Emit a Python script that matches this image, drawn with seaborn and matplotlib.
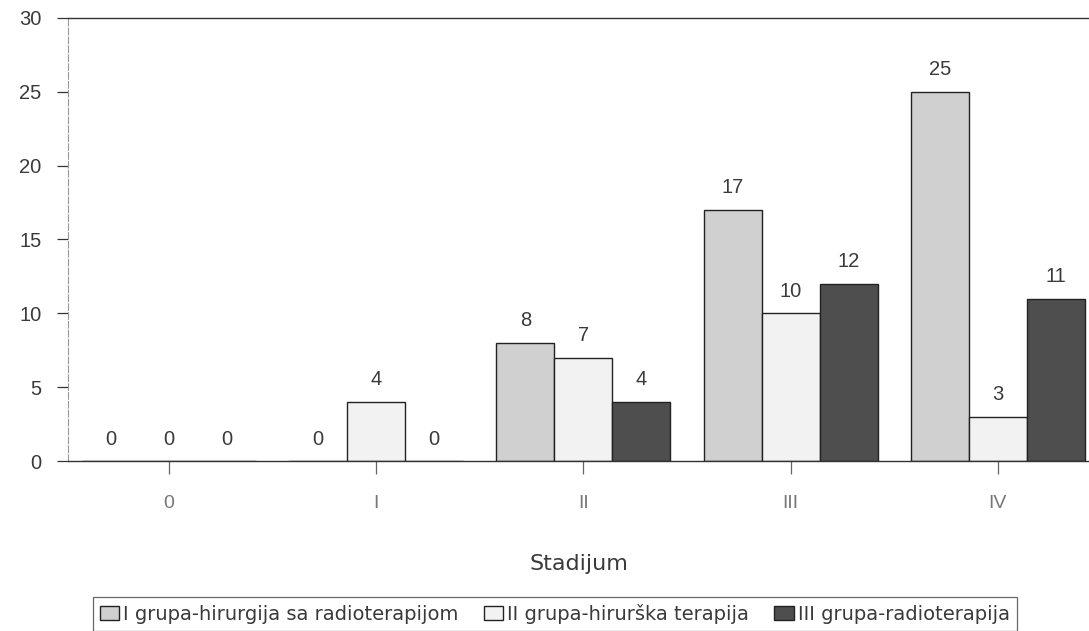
import matplotlib
matplotlib.use("Agg")
import matplotlib.pyplot as plt
import seaborn as sns
import pandas as pd

stadijumi = ["0", "I", "II", "III", "IV"]
grupe = ["I grupa-hirurgija sa radioterapijom",
         "II grupa-hirurška terapija",
         "III grupa-radioterapija"]
grupa_1 = [0, 0, 8, 17, 25]
grupa_2 = [0, 4, 7, 10, 3]
grupa_3 = [0, 0, 4, 12, 11]
boje = ["#d0d0d0", "#f2f2f2", "#4e4e4e"]

df = pd.DataFrame({
    "Stadijum": stadijumi * 3,
    "broj": grupa_1 + grupa_2 + grupa_3,
    "grupa": [g for g in grupe for _ in stadijumi],
})

sns.set_theme(style="white")
plt.rcParams["font.family"] = ["Liberation Sans", "DejaVu Sans"]
tekst = "#3a3a3a"

fig = plt.figure(figsize=(10.89, 6.31), dpi=100)
ax = fig.add_axes([0.0624, 0.2694, 0.9376, 0.7021])

sns.barplot(data=df, x="Stadijum", y="broj", hue="grupa", hue_order=grupe,
            order=stadijumi, palette=boje, edgecolor="#222222", linewidth=1.0,
            width=0.84, saturation=1, ax=ax, legend=True)

for cont in ax.containers:
    labels = [f"{int(b.get_height())}" for b in cont]
    ax.bar_label(cont, labels=labels, padding=9, fontsize=14.5, color=tekst)

ax.set_ylim(0, 30)
ax.set_yticks([0, 5, 10, 15, 20, 25, 30])
ax.set_xlim(-0.488, 4.44)

ax.spines["right"].set_visible(False)
for s in ["top", "bottom"]:
    ax.spines[s].set_color("#333333")
    ax.spines[s].set_linewidth(1.0)
ax.spines["left"].set_color("#999999")
ax.spines["left"].set_linewidth(0.8)
ax.spines["left"].set_linestyle((0, (6, 2)))

ax.tick_params(axis="y", direction="out", length=8, width=0.9, color="#333333",
               labelsize=14.5, labelcolor=tekst, pad=11, left=True)
ax.tick_params(axis="x", direction="out", length=9.5, width=0.9, color="#666666",
               labelsize=14, labelcolor="#777777", pad=15, bottom=True)

ax.set_xlabel("Stadijum", fontsize=16, color=tekst, labelpad=30,
              family=["DejaVu Sans"])
ax.set_ylabel("")

h, l = ax.get_legend_handles_labels()
ax.get_legend().remove()
leg = fig.legend(h, l, loc="upper left", bbox_to_anchor=(0.0855, 0.054),
                 bbox_transform=fig.transFigure, ncol=3, frameon=True,
                 fancybox=False, edgecolor="#444444", borderaxespad=0,
                 prop={"family": "DejaVu Sans", "size": 14},
                 handlelength=1.0, handleheight=0.75, handletextpad=0.2,
                 columnspacing=1.3, borderpad=0.35, labelcolor=tekst)
leg.get_frame().set_linewidth(0.9)

fig.savefig("out.png", dpi=100, facecolor="white")
